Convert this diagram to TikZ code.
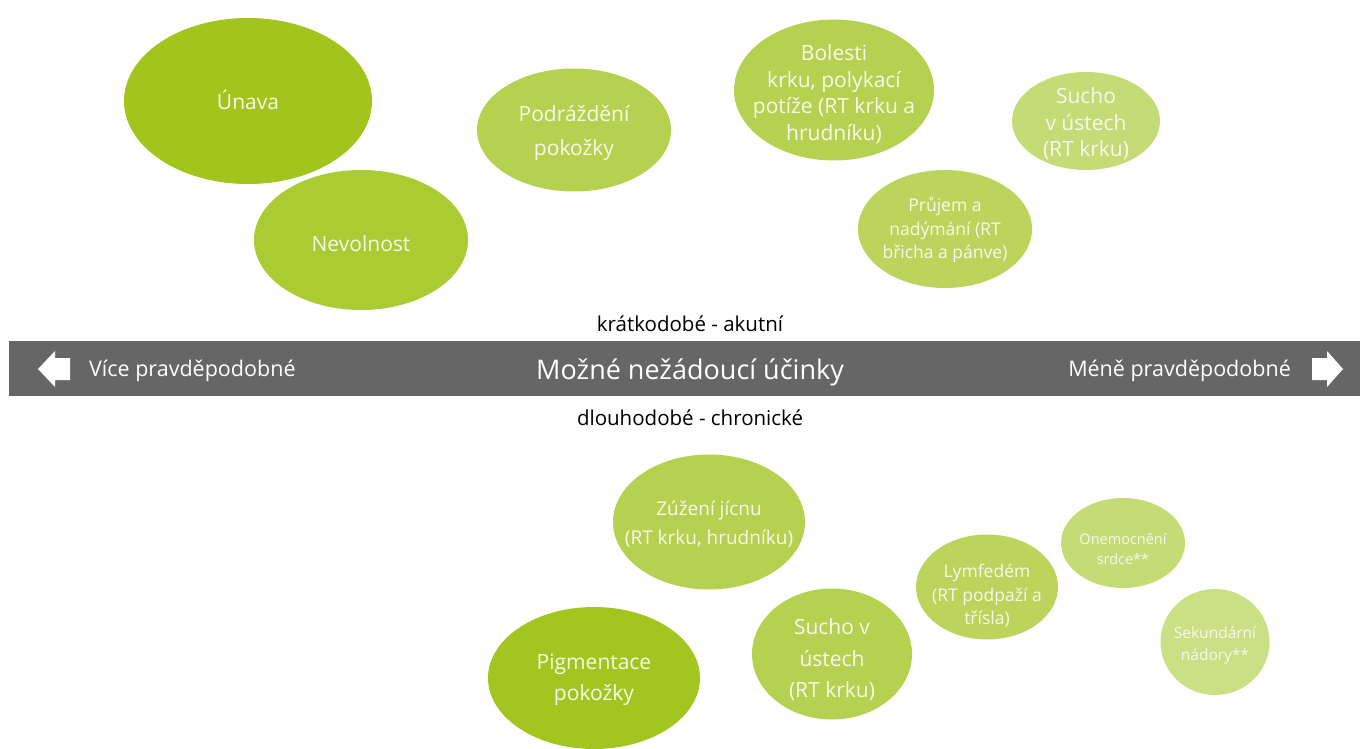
\documentclass[tikz,border=0pt]{standalone}
\usepackage{fontspec}
\setmainfont{Open Sans}
\usetikzlibrary{shapes.geometric}

\definecolor{barGray}{HTML}{666666}
\definecolor{greenA}{HTML}{A2C41D}
\definecolor{greenB}{HTML}{AACB32}
\definecolor{greenC}{HTML}{B6D050}
\definecolor{greenD}{HTML}{BCD45C}
\definecolor{greenE}{HTML}{C5DB76}
\definecolor{bubbleText}{HTML}{F7F9EE}

\begin{document}
\begin{tikzpicture}[x=1pt, y=-1pt,
	bubble/.style={ellipse, inner sep=0pt},
	words/.style={align=center, inner sep=0pt, text=bubbleText},
	big/.style={font=\fontsize{21}{26.5}\selectfont},
	small/.style={font=\fontsize{17.5}{23.5}\selectfont},
	tiny/.style={font=\fontsize{14.5}{20}\selectfont}]
	\useasboundingbox (0,0) rectangle (1360,749);
	% short term effects
	\node[bubble, fill=greenA, minimum width=248, minimum height=166] (unava) at (248,101) {};
	\node[words, big] (unavaText) at (248,100) {Únava};
	\node[bubble, fill=greenB, minimum width=214, minimum height=140] (nevolnost) at (361,240) {};
	\node[words, big] (nevolnostText) at (361,244) {Nevolnost};
	\node[bubble, fill=greenC, minimum width=194, minimum height=123] (podrazdeni) at (574,130) {};
	\node[words, font=\fontsize{21}{34}\selectfont] (podrazdeniText) at (574,133) {Podráždění\\pokožky};
	\node[bubble, fill=greenC, minimum width=200, minimum height=141] (bolesti) at (834,90) {};
	\node[words, big] (bolestiText) at (834,94) {Bolesti\\krku, polykací\\potíže (RT krku a\\hrudníku)};
	\node[bubble, fill=greenE, minimum width=148, minimum height=98] (suchoA) at (1086,121) {};
	\node[words, big] (suchoAText) at (1086,124) {Sucho\\v ústech\\(RT krku)};
	\node[bubble, fill=greenD, minimum width=174, minimum height=118] (prujem) at (945,229) {};
	\node[words, small] (prujemText) at (945,230) {Průjem a\\nadýmání (RT\\břicha a pánve)};
	% bar
	\fill[barGray] (9,341) rectangle (1360,396);
	\fill[white] (38,369) -- (55,351) -- (55,358) -- (70,358) -- (70,380) -- (55,380) -- (55,387) -- cycle;
	\fill[white] (1343,369) -- (1327,351) -- (1327,358) -- (1312,358) -- (1312,380) -- (1327,380) -- (1327,387) -- cycle;
	\node[text=white, font=\fontsize{27}{30}\selectfont] (title) at (690,372) {Možné nežádoucí účinky};
	\node[text=white, font=\fontsize{21.5}{24}\selectfont, anchor=west, inner sep=0pt] (vice) at (89,371) {Více pravděpodobné};
	\node[text=white, font=\fontsize{21.5}{24}\selectfont, anchor=east, inner sep=0pt] (mene) at (1291,371) {Méně pravděpodobné};
	\node[font=\fontsize{20.5}{22}\selectfont] (akutni) at (690,324) {krátkodobé - akutní};
	\node[font=\fontsize{20.5}{22}\selectfont] (chronicke) at (690,418) {dlouhodobé - chronické};
	% long term effects
	\node[bubble, fill=greenC, minimum width=192, minimum height=135] (zuzeni) at (709,522) {};
	\node[words, font=\fontsize{19}{29}\selectfont] (zuzeniText) at (709,524) {Zúžení jícnu\\(RT krku, hrudníku)};
	\node[bubble, fill=greenA!85!greenB, minimum width=212, minimum height=142] (pigmentace) at (594,678) {};
	\node[words, font=\fontsize{21}{31}\selectfont] (pigmentaceText) at (594,680) {Pigmentace\\pokožky};
	\node[bubble, fill=greenC, minimum width=160, minimum height=131] (suchoB) at (832,654) {};
	\node[words, font=\fontsize{21}{31.5}\selectfont] (suchoBText) at (832,660) {Sucho v\\ústech\\(RT krku)};
	\node[bubble, fill=greenD, minimum width=142, minimum height=105] (lymfedem) at (987,587) {};
	\node[words, small] (lymfedemText) at (987,596) {Lymfedém\\(RT podpaží a\\třísla)};
	\node[bubble, fill=greenE, minimum width=124, minimum height=90] (srdce) at (1123,543) {};
	\node[words, tiny] (srdceText) at (1123,549) {Onemocnění\\srdce**};
	\node[bubble, fill=greenE!90!white, minimum width=109, minimum height=106] (nadory) at (1215,642) {};
	\node[words, font=\fontsize{15.5}{22}\selectfont] (nadoryText) at (1215,645) {Sekundární\\nádory**};
\end{tikzpicture}
\end{document}
